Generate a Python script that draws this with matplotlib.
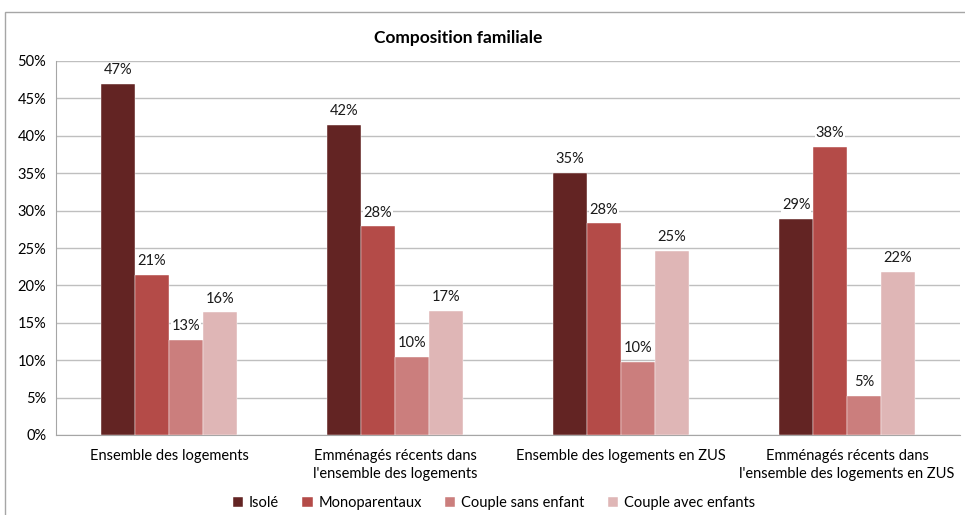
import numpy as np
import matplotlib
matplotlib.use("Agg")
import matplotlib.pyplot as plt
from matplotlib.patches import Rectangle

plt.rcParams["font.family"] = ["Lato", "DejaVu Sans"]

categories = [
    "Ensemble des logements",
    "Emménagés récents dans\nl'ensemble des logements",
    "Ensemble des logements en ZUS",
    "Emménagés récents dans\nl'ensemble des logements en ZUS",
]
series = ["Isolé", "Monoparentaux", "Couple sans enfant", "Couple avec enfants"]
isole = [46.9, 41.5, 35.0, 28.9]
monoparentaux = [21.4, 27.9, 28.3, 38.5]
couple_sans = [12.7, 10.4, 9.8, 5.2]
couple_avec = [16.4, 16.6, 24.6, 21.8]
colors = ["#632423", "#B44B48", "#CB7E7D", "#DFB6B6"]

values = [isole, monoparentaux, couple_sans, couple_avec]

fig = plt.figure(figsize=(9.65, 5.15), dpi=100)
ax = fig.add_axes([56 / 965, 1 - 435 / 515, 904 / 965, 374 / 515])

# cadre gris autour du graphique
fig.patches.append(Rectangle((5 / 965, -0.01), 1.0, 1 - 12 / 515 + 0.01,
                             transform=fig.transFigure, fill=False,
                             edgecolor="#A6A6A6", linewidth=1))

x = np.arange(len(categories))
w = 0.15
for i, (name, vals, c) in enumerate(zip(series, values, colors)):
    pos = x + (i - 1.5) * w
    ax.bar(pos, vals, width=w, color=c, label=name, zorder=3,
           edgecolor="white", linewidth=0.3)
    for p, v in zip(pos, vals):
        ax.text(p, v + 0.9, f"{round(v):.0f}%", ha="center", va="bottom",
                fontsize=10.5, color="#1a1a1a", zorder=4,
                bbox=dict(facecolor="white", edgecolor="none", pad=0.5))

ax.set_xlim(-0.5, len(categories) - 0.5)
ax.set_ylim(0, 50)
ax.set_yticks(np.arange(0, 51, 5))
ax.set_yticklabels([f"{t}%" for t in range(0, 51, 5)])
ax.yaxis.grid(True, color="#BFBFBF", linewidth=1, zorder=0)
ax.set_axisbelow(True)
ax.set_xticks(x)
ax.set_xticklabels(categories, fontsize=10.5, linespacing=1.4)
ax.tick_params(axis="x", length=0, pad=10)
ax.tick_params(axis="y", length=0, pad=7, labelsize=10.5)
for s in ["top", "right"]:
    ax.spines[s].set_visible(False)
for s in ["left", "bottom"]:
    ax.spines[s].set_color("#A6A6A6")

fig.text(458 / 965, 1 - 38 / 515, "Composition familiale", ha="center",
         va="center", fontsize=12.5, fontweight="bold")

fig.legend(loc="center", bbox_to_anchor=(494 / 965, 1 - 503 / 515), ncol=4,
           frameon=False, fontsize=10.5, handlelength=0.7, handleheight=0.7,
           handletextpad=0.4, columnspacing=1.6)

fig.savefig("out.png", dpi=100)
